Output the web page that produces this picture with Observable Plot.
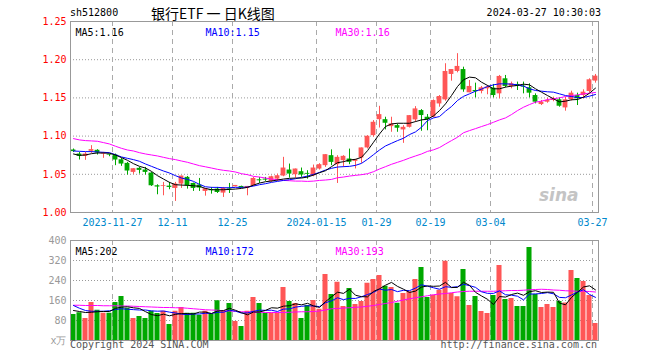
<!DOCTYPE html>
<html><head><meta charset="utf-8">
<script src="https://cdn.jsdelivr.net/npm/d3@7"></script>
<script src="https://cdn.jsdelivr.net/npm/@observablehq/plot@0.6"></script>
<style>
body{margin:0;background:#fff;}
#wrap{position:relative;width:660px;height:360px;overflow:hidden;font-family:"DejaVu Sans Mono",monospace;font-size:10px;color:#000;}
.t{position:absolute;white-space:nowrap;line-height:12px;}
#price,#vol{position:absolute;left:0;}
#price{top:0;}
#vol{top:235px;}
</style></head><body><div id="wrap">
<div id="price"></div>
<div id="vol"></div>
<div class="t" style="left:70px;top:7px;">sh512800</div>
<div class="t" style="left:151px;top:4px;font-family:'Noto Sans CJK SC';font-size:14px;line-height:18px;">银行ETF 一 日K线图</div>
<div class="t" style="right:59px;top:7px;">2024-03-27 10:30:03</div>
<div class="t" style="left:70px;top:339px;color:#555;">Copyright 2024 SINA.COM</div>
<div class="t" style="right:63px;top:339px;color:#555;">http://finance.sina.com.cn</div>
</div>
<script>
// ---- data ----
const open  = [1.0818,1.0765,1.0735,1.0801,1.0814,1.0765,1.0755,1.0752,1.0690,1.0643,1.0525,1.0578,1.0556,1.0516,1.0350,1.0340,1.0345,1.0315,1.0372,1.0460,1.0380,1.0359,1.0276,1.0300,1.0306,1.0254,1.0315,1.0336,1.0341,1.0315,1.0345,1.0428,1.0437,1.0407,1.0437,1.0477,1.0556,1.0494,1.0534,1.0512,1.0481,1.0569,1.0613,1.0744,1.0626,1.0678,1.0700,1.0669,1.0713,1.0845,1.1006,1.1215,1.1215,1.1124,1.1137,1.1081,1.1115,1.1212,1.1334,1.1247,1.1247,1.1421,1.1474,1.1807,1.1846,1.1871,1.1567,1.1597,1.1584,1.1619,1.1628,1.1553,1.1750,1.1650,1.1676,1.1654,1.1632,1.1531,1.1413,1.1444,1.1466,1.1475,1.1369,1.1475,1.1531,1.1531,1.1584,1.1720];
const close = [1.0797,1.0735,1.0765,1.0823,1.0779,1.0778,1.0747,1.0687,1.0634,1.0543,1.0573,1.0551,1.0525,1.0350,1.0333,1.0350,1.0328,1.0372,1.0477,1.0350,1.0315,1.0320,1.0311,1.0285,1.0262,1.0315,1.0306,1.0354,1.0323,1.0341,1.0446,1.0415,1.0424,1.0468,1.0481,1.0582,1.0503,1.0569,1.0490,1.0500,1.0582,1.0626,1.0757,1.0656,1.0722,1.0735,1.0657,1.0690,1.0845,1.0998,1.1181,1.1281,1.1168,1.1159,1.1103,1.1115,1.1268,1.1356,1.1269,1.1216,1.1465,1.1518,1.1846,1.1871,1.1912,1.1605,1.1650,1.1580,1.1632,1.1641,1.1531,1.1781,1.1650,1.1685,1.1650,1.1641,1.1562,1.1444,1.1444,1.1466,1.1488,1.1391,1.1475,1.1562,1.1488,1.1575,1.1737,1.1785];
const high  = [1.0831,1.0787,1.0787,1.0875,1.0822,1.0786,1.0762,1.0765,1.0708,1.0656,1.0573,1.0590,1.0590,1.0525,1.0363,1.0394,1.0394,1.0394,1.0477,1.0472,1.0385,1.0446,1.0311,1.0328,1.0328,1.0328,1.0380,1.0354,1.0345,1.0341,1.0459,1.0459,1.0459,1.0477,1.0503,1.0722,1.0634,1.0569,1.0582,1.0547,1.0621,1.0639,1.0757,1.0820,1.0744,1.0744,1.0830,1.0695,1.0845,1.1006,1.1203,1.1390,1.1247,1.1247,1.1159,1.1137,1.1268,1.1386,1.1347,1.1282,1.1474,1.1531,1.1947,1.1871,1.2079,1.1902,1.1728,1.1693,1.1650,1.1663,1.1676,1.1794,1.1794,1.1707,1.1707,1.1707,1.1685,1.1553,1.1466,1.1497,1.1510,1.1500,1.1510,1.1588,1.1562,1.1606,1.1750,1.1807];
const low   = [1.0785,1.0687,1.0683,1.0774,1.0752,1.0709,1.0730,1.0613,1.0604,1.0490,1.0499,1.0503,1.0490,1.0341,1.0232,1.0219,1.0298,1.0145,1.0315,1.0306,1.0276,1.0276,1.0214,1.0240,1.0249,1.0197,1.0249,1.0336,1.0320,1.0219,1.0345,1.0381,1.0407,1.0394,1.0407,1.0468,1.0450,1.0450,1.0460,1.0437,1.0468,1.0556,1.0591,1.0613,1.0380,1.0591,1.0626,1.0570,1.0643,1.0832,1.0985,1.1106,1.1081,1.1050,1.1050,1.0905,1.1106,1.1181,1.1063,1.1070,1.1238,1.1378,1.1456,1.1719,1.1828,1.1574,1.1567,1.1500,1.1553,1.1541,1.1500,1.1488,1.1632,1.1619,1.1597,1.1553,1.1500,1.1422,1.1400,1.1430,1.1450,1.1378,1.1326,1.1460,1.1400,1.1488,1.1562,1.1693];
const volume = [104,111,88,152,121,109,109,152,176,129,88,96,88,117,108,117,64,117,132,109,109,101,117,104,159,117,148,76,56,117,172,148,109,109,109,212,156,148,88,140,160,125,264,184,233,136,208,144,156,229,244,260,217,212,149,188,195,244,292,172,181,201,317,188,175,284,140,176,116,108,180,300,164,168,136,136,372,184,132,144,132,156,150,280,248,236,180,68];
const ma5  = [1.0766,1.0748,1.0753,1.0770,1.0779,1.0779,1.0775,1.0753,1.0718,1.0683,1.0639,1.0604,1.0582,1.0538,1.0482,1.0438,1.0394,1.0364,1.0359,1.0355,1.0350,1.0342,1.0315,1.0298,1.0298,1.0298,1.0302,1.0307,1.0315,1.0329,1.0359,1.0385,1.0403,1.0412,1.0425,1.0438,1.0447,1.0451,1.0451,1.0464,1.0490,1.0521,1.0547,1.0600,1.0652,1.0665,1.0687,1.0696,1.0722,1.0809,1.0919,1.1028,1.1125,1.1159,1.1168,1.1168,1.1168,1.1190,1.1212,1.1221,1.1264,1.1334,1.1422,1.1531,1.1649,1.1737,1.1772,1.1763,1.1706,1.1663,1.1619,1.1619,1.1641,1.1654,1.1663,1.1680,1.1671,1.1619,1.1575,1.1531,1.1488,1.1448,1.1457,1.1475,1.1479,1.1510,1.1562,1.1628];
const ma10 = [1.0805,1.0801,1.0797,1.0797,1.0792,1.0788,1.0783,1.0757,1.0727,1.0709,1.0692,1.0670,1.0635,1.0604,1.0573,1.0543,1.0517,1.0482,1.0451,1.0433,1.0407,1.0368,1.0337,1.0329,1.0329,1.0324,1.0324,1.0329,1.0329,1.0333,1.0346,1.0364,1.0377,1.0394,1.0407,1.0420,1.0429,1.0442,1.0460,1.0477,1.0499,1.0525,1.0556,1.0578,1.0595,1.0600,1.0604,1.0617,1.0643,1.0696,1.0757,1.0818,1.0871,1.0906,1.0941,1.0972,1.1020,1.1055,1.1116,1.1203,1.1238,1.1256,1.1326,1.1387,1.1466,1.1520,1.1553,1.1588,1.1615,1.1650,1.1671,1.1684,1.1684,1.1680,1.1671,1.1654,1.1619,1.1597,1.1588,1.1580,1.1575,1.1553,1.1531,1.1518,1.1505,1.1505,1.1523,1.1545];
const ma30 = [1.0967,1.0950,1.0941,1.0937,1.0932,1.0915,1.0897,1.0867,1.0840,1.0818,1.0805,1.0783,1.0766,1.0753,1.0740,1.0722,1.0705,1.0692,1.0674,1.0657,1.0635,1.0613,1.0598,1.0582,1.0565,1.0552,1.0543,1.0530,1.0508,1.0495,1.0473,1.0464,1.0451,1.0438,1.0429,1.0420,1.0416,1.0411,1.0411,1.0407,1.0411,1.0420,1.0425,1.0433,1.0455,1.0464,1.0477,1.0486,1.0495,1.0508,1.0534,1.0569,1.0600,1.0631,1.0657,1.0683,1.0713,1.0740,1.0766,1.0800,1.0820,1.0850,1.0897,1.0941,1.0985,1.1044,1.1072,1.1098,1.1125,1.1151,1.1181,1.1212,1.1238,1.1282,1.1334,1.1378,1.1413,1.1444,1.1457,1.1479,1.1488,1.1501,1.1518,1.1531,1.1540,1.1553,1.1562,1.1571];
const volMa5Head  = [120,116,112,113];
const volMa10Head = [140,129,120,117,117,117,119,124,127];
const volMa30 = [141,141,140,140,140,139,139,139,138,138,137,136,135,134,133,132,132,131,131,129,127,125,123,122,121,119,118,117,115,114,113,113,112,112,112,112,113,114,115,115,116,118,122,127,128,130,131,133,134,137,140,144,148,152,157,162,167,171,175,179,183,186,188,191,194,196,197,197,197,197,197,198,199,200,200,201,203,204,205,204,202,201,199,198,197,197,196,194];
const dateIdx = [7,17,27,41,51,60,70,87];
const dateLabels = ["2023-11-27","12-11","12-25","2024-01-15","01-29","02-19","03-04","03-27"];
const priceTicks = [1.00,1.05,1.10,1.15,1.20,1.25];
const volTicks = [0,80,160,240,320,400];
const priceLegend = ["MA5:1.16","MA10:1.15","MA30:1.16"];
const volLegend = ["MA5:202","MA10:172","MA30:193"];

// ---- derived ----
const RED = "#ff5656", GREEN = "#00a800", BLUE = "#0000ff", MAG = "#ff00ff";
const N = open.length;
const idx = d3.range(N);
const isUp = i => close[i] >= open[i];
const colorOf = i => isUp(i) ? RED : GREEN;
const minBody = 0.0007;
const candles = idx.map(i => {
  const lo = Math.min(open[i], close[i]), hi = Math.max(open[i], close[i]);
  return {i, lo, hi: Math.max(hi, lo + minBody), low: low[i], high: high[i], c: colorOf(i), v: volume[i]};
});
const movingAvg = (vals, n, head) => vals.map((_, i) => i < n - 1 ? head[i] : d3.mean(vals.slice(i - n + 1, i + 1)));
const volMa5 = movingAvg(volume, 5, volMa5Head);
const volMa10 = movingAvg(volume, 10, volMa10Head);
const series = (arr) => arr.map((v, i) => ({x: i + 0.5, y: v}));
const font = {fontFamily: "DejaVu Sans Mono, monospace", fontSize: "10px", background: "transparent", overflow: "visible"};
const legendColors = ["#000", BLUE, MAG];
const legendDx = [5, 135, 265];

const price = Plot.plot({
  width: 660, height: 235, marginLeft: 70, marginRight: 62, marginTop: 21, marginBottom: 23,
  style: font,
  x: {domain: [0, N], axis: null, label: null},
  y: {domain: [1.0, 1.25], axis: null, label: null},
  color: {type: "identity"},
  marks: [
    Plot.gridY(priceTicks.slice(1, -1), {stroke: "#999", strokeOpacity: 1, strokeDasharray: "1,2"}),
    Plot.gridX(dateIdx, {stroke: "#aaa", strokeOpacity: 1, strokeDasharray: "5,4"}),
    Plot.ruleX(candles, {x: d => d.i + 0.5, y1: "low", y2: "high", stroke: "c", strokeWidth: 1}),
    Plot.rect(candles, {x1: d => d.i + 0.1, x2: d => d.i + 0.9, y1: "lo", y2: "hi", fill: "c"}),
    Plot.lineY(series(ma30), {x: "x", y: "y", stroke: MAG, strokeWidth: 1}),
    Plot.lineY(series(ma10), {x: "x", y: "y", stroke: BLUE, strokeWidth: 1}),
    Plot.lineY(series(ma5), {x: "x", y: "y", stroke: "#000", strokeWidth: 1}),
    Plot.text(["sina"], {frameAnchor: "bottom-right", dx: -20, dy: -12, text: d => d, fill: "#c4c4c4", fontSize: 17, fontStyle: "italic", fontWeight: "bold", fontFamily: "DejaVu Sans"}),
    Plot.frame({stroke: "#999"}),
    Plot.axisY(priceTicks, {tickSize: 0, tickPadding: 4, tickFormat: d => d.toFixed(2), color: "#ff0000", label: null}),
    Plot.axisX(dateIdx, {tickSize: 0, tickPadding: 6, tickFormat: d => dateLabels[dateIdx.indexOf(d)], color: "#0088cc", label: null}),
    ...priceLegend.map((t, j) => Plot.text([t], {frameAnchor: "top-left", dx: legendDx[j], dy: 7, text: d => d, fill: legendColors[j], textAnchor: "start"}))
  ]
});
document.getElementById("price").appendChild(price);

const vol = Plot.plot({
  width: 660, height: 125, marginLeft: 70, marginRight: 62, marginTop: 5, marginBottom: 20,
  style: font,
  x: {domain: [0, N], axis: null, label: null},
  y: {domain: [0, 400], axis: null, label: null},
  color: {type: "identity"},
  marks: [
    Plot.gridY(volTicks.slice(1, -1), {stroke: "#999", strokeOpacity: 1, strokeDasharray: "1,2"}),
    Plot.gridX(dateIdx, {stroke: "#aaa", strokeOpacity: 1, strokeDasharray: "5,4"}),
    Plot.rectY(candles, {x1: d => d.i + 0.08, x2: d => d.i + 0.92, y: "v", fill: "c"}),
    Plot.lineY(series(volMa30), {x: "x", y: "y", stroke: MAG, strokeWidth: 1}),
    Plot.lineY(series(volMa10), {x: "x", y: "y", stroke: BLUE, strokeWidth: 1}),
    Plot.lineY(series(volMa5), {x: "x", y: "y", stroke: "#000", strokeWidth: 1}),
    Plot.frame({stroke: "#999"}),
    Plot.axisY(volTicks, {tickSize: 0, tickPadding: 4, tickFormat: d => d === 0 ? "x万" : d, color: "#999", label: null}),
    ...volLegend.map((t, j) => Plot.text([t], {frameAnchor: "top-left", dx: legendDx[j], dy: 7, text: d => d, fill: legendColors[j], textAnchor: "start"}))
  ]
});
document.getElementById("vol").appendChild(vol);
</script>
</body></html>
